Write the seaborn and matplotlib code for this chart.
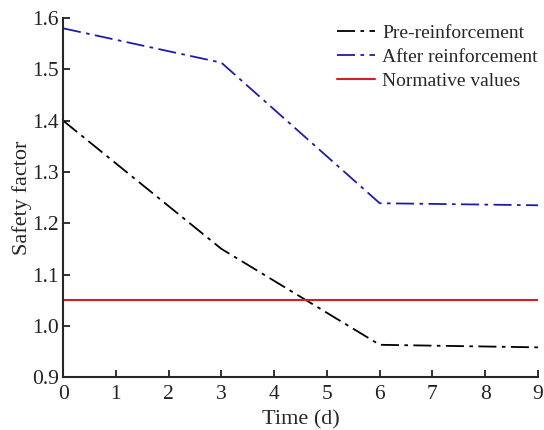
import matplotlib
matplotlib.use("Agg")
import matplotlib.pyplot as plt
import seaborn as sns
import pandas as pd

# Data
time_d = [0, 3, 6, 9]
pre_reinforcement = [1.400, 1.150, 0.963, 0.958]
after_reinforcement = [1.580, 1.513, 1.239, 1.235]
normative_value = 1.05

df = pd.DataFrame({
    "time": time_d * 2,
    "sf": pre_reinforcement + after_reinforcement,
    "case": ["Pre-reinforcement"] * 4 + ["After reinforcement"] * 4,
})

sns.set_style("ticks")
plt.rcParams["font.family"] = ["Liberation Serif", "DejaVu Serif"]
plt.rcParams["xtick.direction"] = "in"
plt.rcParams["ytick.direction"] = "in"

fig = plt.figure(figsize=(5.44, 4.30), dpi=100)
ax = fig.add_axes([0.116, 0.123, 0.873, 0.835])

dash = (0, (10, 3, 2, 3))
sns.lineplot(data=df[df["case"] == "Pre-reinforcement"], x="time", y="sf",
             color="black", linestyle=dash, linewidth=1.3, ax=ax,
             label="Pre-reinforcement")
sns.lineplot(data=df[df["case"] == "After reinforcement"], x="time", y="sf",
             color="#1c1ca8", linestyle=dash, linewidth=1.3, ax=ax,
             label="After reinforcement")
ax.axhline(normative_value, color="#d42020", linewidth=1.5, label="Normative values")

ax.set_xlim(0, 9)
ax.set_ylim(0.9, 1.6)
ax.set_xticks(range(0, 10))
ax.set_yticks([0.9, 1.0, 1.1, 1.2, 1.3, 1.4, 1.5, 1.6])
ax.set_yticklabels([f"{v:.1f}" for v in ax.get_yticks()])
ax.tick_params(labelsize=15.5, width=1.3, length=5, colors="#222222", pad=3)
ax.tick_params(axis="x", pad=6)
ax.set_xlabel("Time (d)", fontsize=16, labelpad=4)
ax.set_ylabel("Safety factor", fontsize=16, labelpad=0)
for s in ["left", "bottom"]:
    ax.spines[s].set_linewidth(1.5)
sns.despine(ax=ax)

ax.legend(loc="upper left", frameon=False, fontsize=14, handlelength=1.95,
          handletextpad=0.4, labelspacing=0.33, borderpad=0, borderaxespad=0,
          bbox_to_anchor=(0.619, 0.944), bbox_transform=fig.transFigure)

fig.savefig("out.png", dpi=100)
